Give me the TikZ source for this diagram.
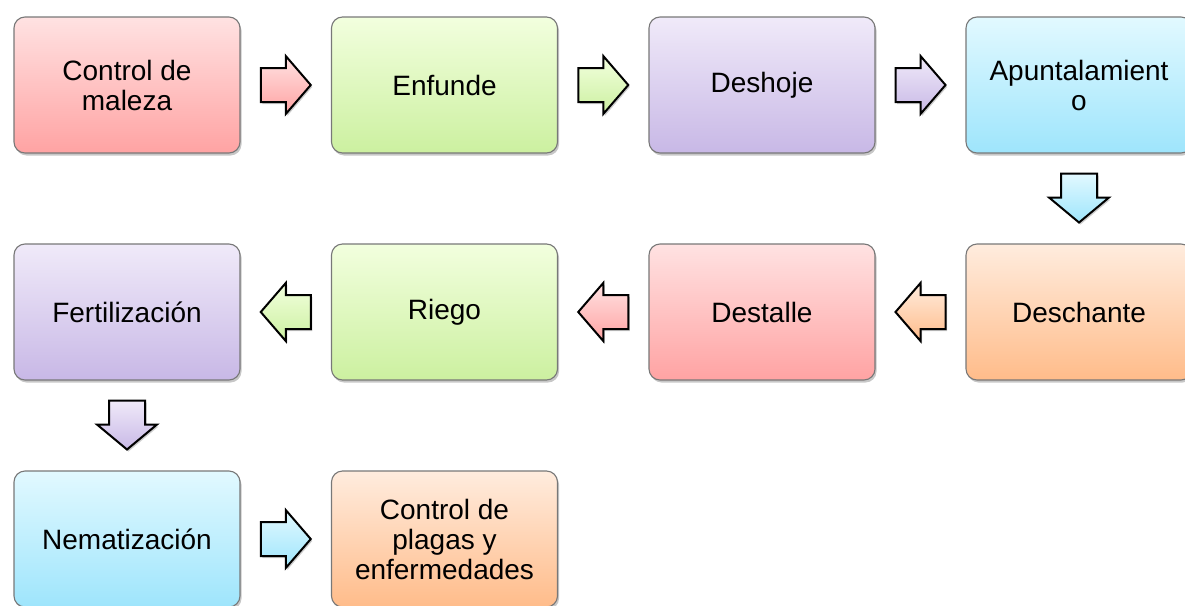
\documentclass[tikz,border=0pt]{standalone}
\usepackage{fontspec}
\setmainfont{Liberation Sans}
\usetikzlibrary{calc,shadows}
\definecolor{redT}{RGB}{255,226,226}\definecolor{redB}{RGB}{255,163,163}
\definecolor{grnT}{RGB}{242,255,222}\definecolor{grnB}{RGB}{204,240,160}
\definecolor{purT}{RGB}{240,234,249}\definecolor{purB}{RGB}{200,184,230}
\definecolor{bluT}{RGB}{226,249,255}\definecolor{bluB}{RGB}{158,229,252}
\definecolor{oraT}{RGB}{255,236,222}\definecolor{oraB}{RGB}{255,188,138}
\definecolor{edge}{RGB}{120,120,120}
\tikzset{
  stepbox/.style={draw=edge, line width=1.1pt, rounded corners=11pt,
    minimum width=226pt, minimum height=136pt, align=center, inner sep=2pt,
    font=\fontsize{28}{30}\selectfont, text=black,
    drop shadow={shadow xshift=1.5pt, shadow yshift=-2.5pt, fill=black, opacity=0.22}},
  redbox/.style={stepbox, top color=redT, bottom color=redB},
  grnbox/.style={stepbox, top color=grnT, bottom color=grnB},
  purbox/.style={stepbox, top color=purT, bottom color=purB},
  blubox/.style={stepbox, top color=bluT, bottom color=bluB},
  orabox/.style={stepbox, top color=oraT, bottom color=oraB},
  blockarr/.style={draw=black, line width=2pt, line join=miter,
    drop shadow={shadow xshift=1.5pt, shadow yshift=-2pt, fill=black, opacity=0.2}},
}
\newcommand\arrR[3]{\coordinate (m) at ($(#1)!0.5!(#2)$);
  \draw[blockarr, top color=#3T, bottom color=#3B, shift={(m)}]
    (-25,17) -- (0,17) -- (0,29) -- (25,0) -- (0,-29) -- (0,-17) -- (-25,-17) -- cycle;}
\newcommand\arrL[3]{\coordinate (m) at ($(#1)!0.5!(#2)$);
  \draw[blockarr, top color=#3T, bottom color=#3B, shift={(m)}]
    (25,17) -- (0,17) -- (0,29) -- (-25,0) -- (0,-29) -- (0,-17) -- (25,-17) -- cycle;}
\newcommand\arrD[3]{\coordinate (m) at ($(#1)!0.5!(#2)$);
  \draw[blockarr, top color=#3T, bottom color=#3B, shift={(m)}]
    (-18,25) -- (18,25) -- (18,1) -- (30,1) -- (0,-24) -- (-30,1) -- (-18,1) -- cycle;}
\begin{document}
\begin{tikzpicture}[x=1pt,y=1pt]
\useasboundingbox[fill=white] (0,0) rectangle (1185,-605);
\node[redbox] (n1) at (127,-85) {Control de\\maleza};
\node[grnbox] (n2) at (444.5,-85) {Enfunde};
\node[purbox] (n3) at (762,-85) {Deshoje};
\node[blubox] (n4) at (1079,-85) {Apuntalamient\\o};
\node[orabox] (n5) at (1079,-312) {Deschante};
\node[redbox] (n6) at (762,-312) {Destalle};
\node[grnbox] (n7) at (444.5,-312) {Riego};
\node[purbox] (n8) at (127,-312) {Fertilización};
\node[blubox] (n9) at (127,-539) {Nematización};
\node[orabox] (n10) at (444.5,-539) {Control de\\plagas y\\enfermedades};
\arrR{n1}{n2}{red}
\arrR{n2}{n3}{grn}
\arrR{n3}{n4}{pur}
\arrD{n4}{n5}{blu}
\arrL{n5}{n6}{ora}
\arrL{n6}{n7}{red}
\arrL{n7}{n8}{grn}
\arrD{n8}{n9}{pur}
\arrR{n9}{n10}{blu}
\end{tikzpicture}
\end{document}
